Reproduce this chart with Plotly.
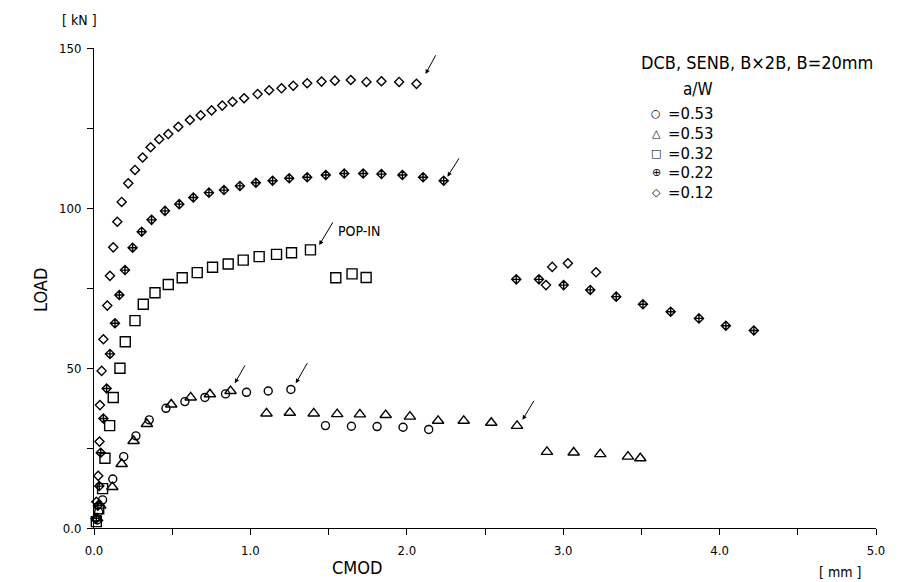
import plotly.graph_objects as go

# ---------------- data (CMOD [mm], LOAD [kN]) ----------------
cmod_c053 = [0.02, 0.03, 0.055, 0.12, 0.19, 0.268, 0.353, 0.46, 0.581, 0.709, 0.841, 0.975,
             1.114, 1.259, 1.48, 1.646, 1.81, 1.976, 2.14]
load_c053 = [2.5, 5.0, 8.8, 15.3, 22.3, 28.8, 33.8, 37.4, 39.5, 40.8, 41.9, 42.4,
             42.8, 43.3, 32.0, 31.8, 31.7, 31.5, 30.8]

cmod_t053 = [0.02, 0.04, 0.117, 0.177, 0.253, 0.338, 0.494, 0.618, 0.741, 0.873, 1.103, 1.252,
             1.405, 1.555, 1.70, 1.865, 2.02, 2.20, 2.364, 2.54, 2.705, 2.896, 3.067, 3.237,
             3.414, 3.493]
load_t053 = [3.0, 7.0, 12.8, 20.0, 27.2, 32.5, 38.6, 40.8, 41.8, 42.8, 35.8, 36.0,
             35.8, 35.6, 35.5, 35.3, 34.8, 33.5, 33.5, 32.9, 31.9, 23.8, 23.6, 23.1,
             22.3, 21.8]

cmod_s032 = [0.015, 0.03, 0.055, 0.07, 0.10, 0.123, 0.166, 0.20, 0.262, 0.315, 0.39, 0.475,
             0.564, 0.66, 0.758, 0.858, 0.954, 1.056, 1.167, 1.263, 1.384, 1.546, 1.65, 1.74]
load_s032 = [2.0, 6.0, 12.3, 21.8, 32.0, 40.8, 49.9, 58.2, 64.8, 69.9, 73.5, 76.1,
             78.2, 79.8, 81.5, 82.5, 83.7, 84.8, 85.5, 86.0, 86.9, 78.2, 79.4, 78.3]

cmod_x022 = [0.015, 0.025, 0.034, 0.043, 0.06, 0.081, 0.102, 0.134, 0.162, 0.198, 0.247, 0.305,
             0.368, 0.454, 0.545, 0.635, 0.735, 0.831, 0.933, 1.035, 1.142, 1.248, 1.363, 1.482,
             1.600, 1.721, 1.838, 1.972, 2.104, 2.236, 2.70, 2.845, 3.003, 3.173, 3.339, 3.51,
             3.687, 3.868, 4.04, 4.219]
load_x022 = [3.0, 7.0, 13.1, 23.5, 34.2, 43.6, 54.4, 64.0, 72.8, 80.6, 87.6, 92.6,
             96.3, 99.1, 101.2, 103.3, 104.8, 105.6, 106.9, 107.9, 108.5, 109.3, 109.6, 110.3,
             110.8, 110.8, 110.6, 110.3, 109.6, 108.5, 77.7, 77.7, 75.9, 74.4, 72.3, 69.9,
             67.6, 65.5, 63.2, 61.7]

cmod_d012 = [0.01, 0.015, 0.027, 0.035, 0.038, 0.049, 0.06, 0.085, 0.102, 0.123, 0.149, 0.177,
             0.219, 0.262, 0.311, 0.362, 0.417, 0.475, 0.539, 0.613, 0.682, 0.752, 0.820, 0.886,
             0.960, 1.046, 1.120, 1.199, 1.274, 1.363, 1.455, 1.540, 1.642, 1.742, 1.838, 1.951,
             2.062, 2.89, 2.93, 3.03, 3.21]
load_d012 = [3.0, 8.2, 16.3, 27.0, 38.4, 49.1, 59.0, 69.5, 78.8, 87.7, 95.7, 101.9,
             107.7, 111.9, 115.8, 119.0, 121.5, 123.1, 125.4, 127.5, 129.0, 130.5, 132.0, 133.2,
             134.3, 135.6, 136.8, 137.4, 138.2, 139.0, 139.5, 139.8, 140.0, 139.4, 139.6, 139.4,
             138.8, 75.9, 81.6, 82.7, 79.9]

# pop-in arrows: head (x, y) and tail (x, y)
arrow_head_x = [2.12, 2.26, 1.44, 0.90, 1.29, 2.74]
arrow_head_y = [141.9, 109.8, 88.4, 45.2, 45.2, 33.8]
arrow_tail_x = [2.19, 2.34, 1.533, 0.971, 1.369, 2.818]
arrow_tail_y = [148.2, 116.0, 96.0, 51.3, 52.0, 40.2]

x_tickvals = [0, 1, 2, 3, 4, 5]
x_ticktext = ["0.0", "1.0", "2.0", "3.0", "4.0", "5.0"]
y_tickvals = [0, 50, 100, 150]
y_ticktext = ["0.0", "50", "100", "150"]

legend_symbols = ["○", "△", "□", "⊕", "◇"]
legend_values = ["=0.53", "=0.53", "=0.32", "=0.22", "=0.12"]

# ---------------- figure ----------------
W, H = 910, 582
L, R, T, B = 94, 34, 48, 54
PW, PH = W - L - R, H - T - B


def P(px, py):
    return (px - L) / PW, (H - B - py) / PH


FONT = "DejaVu Sans"
COND = "DejaVu Sans Condensed, DejaVu Sans"

fig = go.Figure()

series = [
    (cmod_c053, load_c053, "circle-open", 8),
    (cmod_t053, load_t053, "triangle-up-open", 10),
    (cmod_s032, load_s032, "square-open", 10),
    (cmod_x022, load_x022, "diamond-cross-open", 7),
    (cmod_d012, load_d012, "diamond-open", 7),
]
for xs, ys, sym, sz in series:
    fig.add_trace(go.Scatter(
        x=xs, y=ys, mode="markers", cliponaxis=False, showlegend=False,
        marker=dict(symbol=sym, size=sz, color="black",
                    line=dict(color="black", width=1.4)),
    ))

annotations = []
for hx, hy, tx, ty in zip(arrow_head_x, arrow_head_y, arrow_tail_x, arrow_tail_y):
    annotations.append(dict(
        x=hx, y=hy, ax=tx, ay=ty, xref="x", yref="y", axref="x", ayref="y",
        text="", showarrow=True, arrowhead=2, arrowsize=0.9, arrowwidth=1,
        arrowcolor="black", standoff=0, startstandoff=0,
    ))


def txt(text, px, py, size, xanchor="center", font=FONT, angle=0):
    x, y = P(px, py)
    annotations.append(dict(
        text=text, x=x, y=y, xref="paper", yref="paper", showarrow=False,
        xanchor=xanchor, yanchor="middle", textangle=angle,
        font=dict(family=font, size=size, color="black"),
    ))


txt("POP-IN", 336, 231, 14, xanchor="left", font=COND)
txt("[ kN ]", 79, 20, 14, font=COND)
txt("[ mm ]", 840, 572, 14, font=COND)
txt("CMOD", 357, 567, 18, font=COND)
txt("LOAD", 40, 290, 18, font=COND, angle=-90)
txt("DCB, SENB, B×2B, B=20mm", 757, 62, 18, font=COND)
txt("a/W", 698, 89, 17, font=COND)
legend_y = [114, 133.5, 153, 172.5, 192]
for sym, val, py in zip(legend_symbols, legend_values, legend_y):
    txt(sym, 656, py, 11, font=FONT)
    txt(val, 666, py, 16.5, xanchor="left", font=COND)

axis_common = dict(
    showline=True, linecolor="black", linewidth=1, showgrid=False, zeroline=False,
    ticks="outside", ticklen=6, tickwidth=1, tickcolor="black",
    tickfont=dict(family=COND, size=13, color="black"),
)

fig.update_layout(
    width=W, height=H,
    margin=dict(l=L, r=R, t=T, b=B),
    paper_bgcolor="white", plot_bgcolor="white",
    annotations=annotations,
    xaxis=dict(range=[0, 5], tickmode="array", tickvals=x_tickvals, ticktext=x_ticktext,
               ticklabelstandoff=4,
               minor=dict(tickmode="linear", tick0=0, dtick=0.5, ticks="outside",
                          ticklen=6, tickcolor="black", showgrid=False),
               **axis_common),
    yaxis=dict(range=[0, 150], tickmode="array", tickvals=y_tickvals, ticktext=y_ticktext,
               ticklabelstandoff=3,
               minor=dict(tickmode="linear", tick0=0, dtick=25, ticks="outside",
                          ticklen=6, tickcolor="black", showgrid=False),
               **axis_common),
)

fig.write_html("out.html")
